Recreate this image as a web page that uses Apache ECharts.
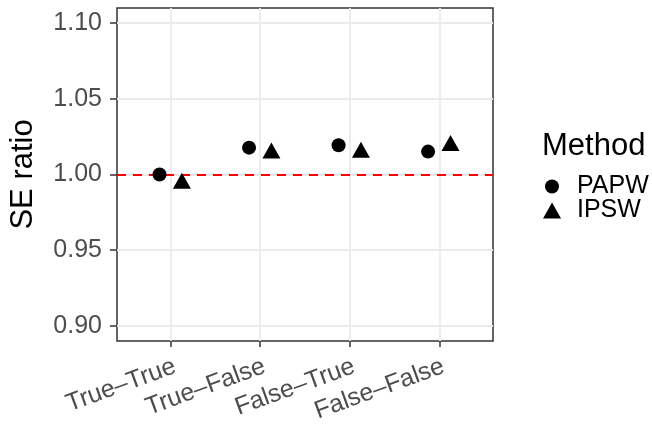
<!DOCTYPE html>
<html>
<head>
<meta charset="utf-8">
<script src="https://cdn.jsdelivr.net/npm/echarts@6/dist/echarts.min.js"></script>
<style>
  html, body { margin: 0; padding: 0; background: #ffffff; }
  #chart { width: 652px; height: 425px; }
</style>
</head>
<body>
<div id="chart"></div>
<script>
// Scenario labels along the x axis
const categories = ['True\u2013True', 'True\u2013False', 'False\u2013True', 'False\u2013False'];
// SE ratio per scenario, one array per weighting method
const papwValues = [1.000, 1.0177, 1.0193, 1.0151];
const ipswValues = [0.9941, 1.0141, 1.0146, 1.0190];
// Axis breaks and the reference level
const yTicks = [0.90, 0.95, 1.00, 1.05, 1.10];
const referenceLevel = 1.00;

const FONT = "'Liberation Sans', Arial, Helvetica, sans-serif";
const DODGE = 0.125;              // half of the dodge width
const catPos = categories.map((_, i) => i + 1);

const toPoints = (vals, shift) => vals.map((v, i) => [catPos[i] + shift, v]);

const chart = echarts.init(document.getElementById('chart'), null, { renderer: 'canvas' });

const option = {
  backgroundColor: '#ffffff',
  animation: false,
  textStyle: { fontFamily: FONT },
  grid: {
    left: 116, right: 159, top: 8, bottom: 82,
    show: true, backgroundColor: '#ffffff',
    borderColor: '#333333', borderWidth: 1.5
  },
  title: {
    text: 'Method',
    left: 542, top: 131,
    padding: 0,
    textStyle: { fontFamily: FONT, fontSize: 31, fontWeight: 'normal', color: '#000000', lineHeight: 31 }
  },
  legend: [
    {
      data: [{ name: 'PAPW', icon: 'circle' }],
      left: 545, top: 174, padding: 0,
      itemWidth: 14, itemHeight: 14,
      selectedMode: false,
      textStyle: { fontFamily: FONT, fontSize: 25, color: '#000000', lineHeight: 24, padding: [0, 0, 0, 13] }
    },
    {
      data: [{ name: 'IPSW', icon: 'triangle' }],
      left: 543, top: 198, padding: 0,
      itemWidth: 18, itemHeight: 16,
      selectedMode: false,
      textStyle: { fontFamily: FONT, fontSize: 25, color: '#000000', lineHeight: 24, padding: [0, 0, 0, 11] }
    }
  ],
  xAxis: {
    type: 'value',
    min: 0.4, max: 4.6,
    axisLine: { show: false },
    axisTick: {
      show: true, length: 6, customValues: catPos,
      lineStyle: { color: '#333333', width: 1.5 }
    },
    axisLabel: {
      customValues: catPos,
      formatter: v => categories[Math.round(v) - 1] || '',
      rotate: 20,
      align: 'right',
      verticalAlign: 'top',
      margin: 13,
      fontFamily: FONT, fontSize: 25, color: '#4d4d4d', lineHeight: 25
    },
    splitLine: { show: true, lineStyle: { color: '#ebebeb', width: 1.8 } }
  },
  yAxis: {
    type: 'value',
    min: 0.89, max: 1.11,
    name: 'SE ratio',
    nameLocation: 'middle',
    nameRotate: 90,
    nameGap: 78,
    nameTextStyle: { fontFamily: FONT, fontSize: 31, color: '#000000' },
    axisLine: { show: false },
    axisTick: {
      show: true, length: 7, customValues: yTicks,
      lineStyle: { color: '#333333', width: 1.5 }
    },
    axisLabel: {
      customValues: yTicks,
      formatter: v => v.toFixed(2),
      margin: 15,
      fontFamily: FONT, fontSize: 25, color: '#4d4d4d'
    },
    splitLine: { show: true, lineStyle: { color: '#ebebeb', width: 1.8 } }
  },
  series: [
    {
      name: 'PAPW',
      type: 'scatter',
      z: 10,
      symbol: 'circle',
      symbolSize: 14,
      itemStyle: { color: '#000000', opacity: 1 },
      data: toPoints(papwValues, -DODGE),
      markLine: {
        silent: true,
        symbol: ['none', 'none'],
        label: { show: false },
        z: 1,
        lineStyle: { color: '#ff0000', type: [9, 7], width: 1.8, opacity: 1 },
        data: [{ yAxis: referenceLevel }]
      }
    },
    {
      name: 'IPSW',
      type: 'scatter',
      z: 10,
      symbol: 'triangle',
      symbolSize: [18, 16],
      symbolOffset: [0, -16 / 6],   // put the centroid of the triangle on the value
      itemStyle: { color: '#000000', opacity: 1 },
      data: toPoints(ipswValues, DODGE)
    }
  ]
};

chart.setOption(option);
</script>
</body>
</html>
